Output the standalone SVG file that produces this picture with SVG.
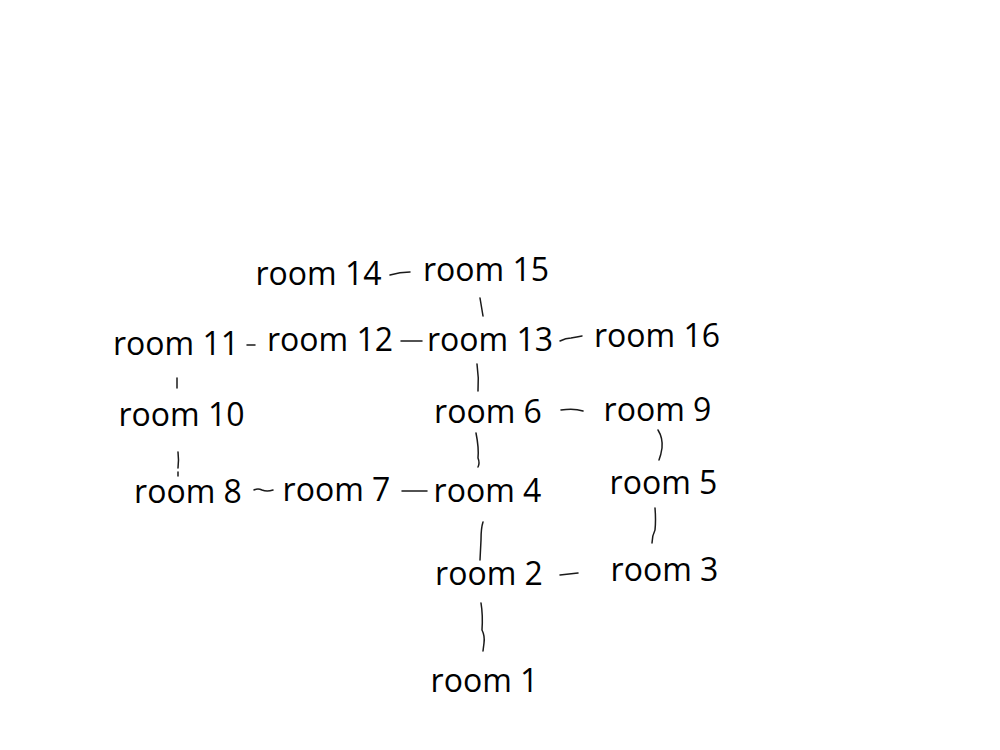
<svg xmlns="http://www.w3.org/2000/svg" width="1000" height="750" viewBox="0 0 1000 750">
<style>
.n text{font-family:"Open Sans","Noto Sans","Liberation Sans",sans-serif;font-size:32px;fill:#000;text-anchor:middle}
.c path{fill:none;stroke:#1a1a1a;stroke-width:1.5;stroke-linecap:round}
</style>
<rect width="1000" height="750" fill="#fff"/>
<g id="room14" class="n"><text x="318.5" y="285">room 14</text></g>
<g id="room15" class="n"><text x="486" y="281">room 15</text></g>
<g id="room11" class="n"><text x="176" y="355">room 11</text></g>
<g id="room12" class="n"><text x="330" y="351">room 12</text></g>
<g id="room13" class="n"><text x="490" y="351">room 13</text></g>
<g id="room16" class="n"><text x="657" y="347">room 16</text></g>
<g id="room10" class="n"><text x="181.5" y="426">room 10</text></g>
<g id="room6" class="n"><text x="488" y="423">room 6</text></g>
<g id="room9" class="n"><text x="657.5" y="421">room 9</text></g>
<g id="room8" class="n"><text x="188" y="503">room 8</text></g>
<g id="room7" class="n"><text x="336.5" y="501">room 7</text></g>
<g id="room4" class="n"><text x="487.5" y="502">room 4</text></g>
<g id="room5" class="n"><text x="663.5" y="494">room 5</text></g>
<g id="room2" class="n"><text x="489" y="585">room 2</text></g>
<g id="room3" class="n"><text x="664.5" y="581">room 3</text></g>
<g id="room1" class="n"><text x="484.5" y="692">room 1</text></g>
<g id="connectors" class="c">
<path d="M390,275 Q400,272 410,272"/>
<path d="M480,298 L483,316"/>
<path d="M247,345 L255,345"/>
<path d="M401,341 L422,341"/>
<path d="M560,341 Q566,338 571,338 Q577,337 582,336"/>
<path d="M177,378 L177,388"/>
<path d="M178,452 Q179,460 178,468 M178,472 L178,476"/>
<path d="M254,490 Q258,488 262,490 Q267,492 273,490"/>
<path d="M402,491 L427,491"/>
<path d="M477,364 Q479,378 478,391"/>
<path d="M561,410 Q574,408 583,411"/>
<path d="M476,433 Q479,448 478,458 Q480,463 478,467"/>
<path d="M658,430 Q663,438 662,448 Q661,455 659,460"/>
<path d="M483,522 Q481,528 481,540 L480,560"/>
<path d="M655,508 Q656,520 655,530 Q652,536 652,543"/>
<path d="M560,575 L578,573"/>
<path d="M481,603 Q483,615 482,630 Q485,636 484,643 L483,651"/>
</g>
</svg>
